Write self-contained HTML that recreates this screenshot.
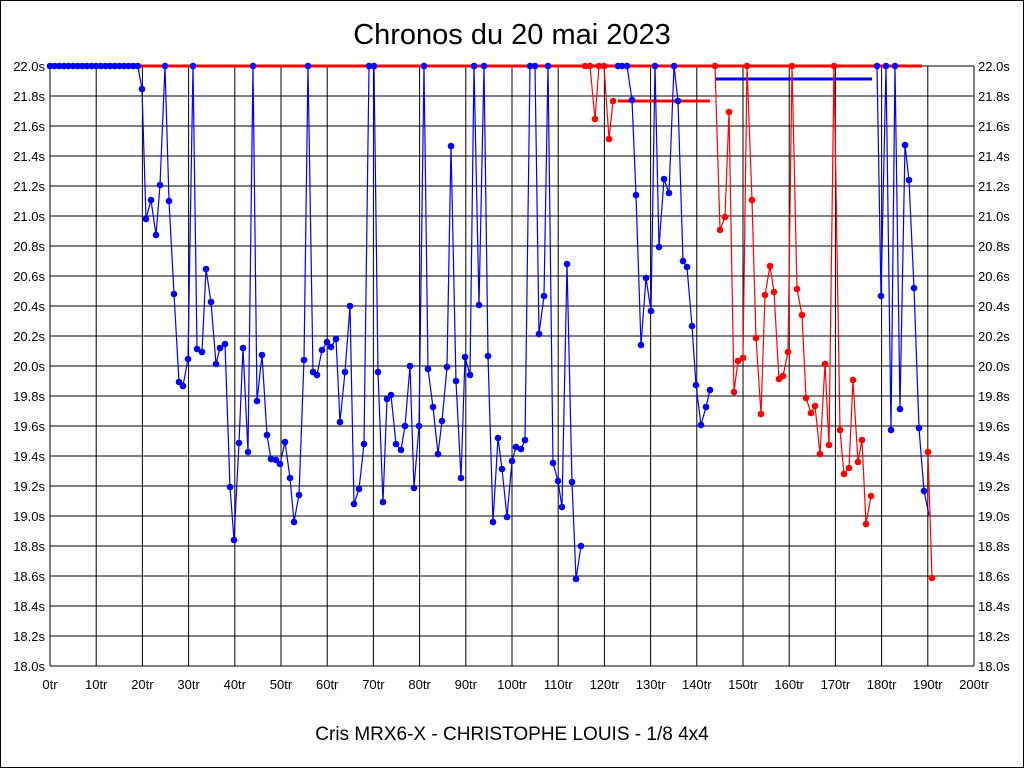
<!DOCTYPE html>
<html><head><meta charset="utf-8"><style>
body{margin:0;background:#fff;width:1024px;height:768px;overflow:hidden;font-family:"Liberation Sans",sans-serif}
</style></head><body>
<svg id="s" width="1024" height="768" xmlns="http://www.w3.org/2000/svg" font-family="Liberation Sans, sans-serif">
<rect x="0.5" y="0.5" width="1023" height="767" fill="#fff" stroke="#000"/>
<text x="512" y="44" font-size="29" text-anchor="middle">Chronos du 20 mai 2023</text>
<text x="512" y="740" font-size="19" text-anchor="middle">Cris MRX6-X - CHRISTOPHE LOUIS - 1/8 4x4</text>
<g id="g"></g>
</svg>
<script>
var ns="http://www.w3.org/2000/svg",g=document.getElementById('g');
function el(t,a,txt){var e=document.createElementNS(ns,t);for(var k in a)e.setAttribute(k,a[k]);if(txt)e.textContent=txt;g.appendChild(e);return e;}
var L=50,R=974,T=66,B=666;
for(var i=0;i<=20;i++){var y=T+i*30;el('line',{x1:L,x2:R,y1:y,y2:y,stroke:'#000','stroke-width':1});
var v=(22-i*0.2).toFixed(1)+'s';el('text',{x:45,y:y+5,'font-size':13,'text-anchor':'end'},v);el('text',{x:978,y:y+5,'font-size':13},v);}
for(var i=0;i<=20;i++){var x=L+i*(R-L)/20;el('line',{x1:x,x2:x,y1:T,y2:B,stroke:'#000','stroke-width':1});
el('text',{x:x,y:689,'font-size':13,'text-anchor':'middle'},(i*10)+'tr');}
el('line',{x1:L,x2:R,y1:B,y2:B,stroke:'#000','stroke-width':1});
function poly(pts,c,w){el('polyline',{points:pts.map(p=>p.join(',')).join(' '),fill:'none',stroke:c,'stroke-width':w});}
function dots(pts,c){pts.forEach(p=>el('circle',{cx:p[0],cy:p[1],r:3.3,fill:c}));}
poly([[137,66],[922,66]],'#f00',3);
poly([[618,101],[710,101]],'#f00',3);
poly([[715,79],[872,79]],'#00f',3);
var b=[];for(var i=0;i<20;i++)b.push([50+i*4.62,66]);
b=b.concat([[142,89],[146,219],[151,200],[156,235],[160,185],[165,66],[169,201],[174,294],[179,382],[183,386],[188,359],[193,66],[197,349],[202,352],[206,269],[211,302],[216,364],[220,348],[225,344],[230,487],[234,540],[239,443],[243,348],[248,452],[253,66],[257,401],[262,355],[267,435],[271,459],[276,460],[280,464],[285,442],[290,478],[294,522],[299,495],[304,360],[308,66],[313,372],[317,375],[322,350],[327,342],[331,347],[336,339],[340,422],[345,372],[350,306],[354,504],[359,489],[364,444],[369,66],[374,66],[378,372],[383,502],[387,399],[391,395],[396,444],[401,450],[405,426],[410,366],[414,488],[419,426],[424,66],[428,369],[433,407],[438,454],[442,421],[447,367],[451,146],[456,381],[461,478],[465,357],[470,375],[474,66],[479,305],[484,66],[488,356],[493,522],[498,438],[502,469],[507,517],[512,461],[516,447],[521,449],[525,440],[530,66],[535,66],[539,334],[544,296],[548,66],[553,463],[558,481],[562,507],[567,264],[572,482],[576,579],[581,546]]);
var b2=[[618,66],[622,66],[627,66],[632,100],[636,195],[641,345],[646,278],[651,311],[655,66],[659,247],[664,179],[669,193],[674,66],[678,101],[683,261],[687,267],[692,326],[696,385],[701,425],[706,407],[710,390]];
var b3=[[877,66],[881,296],[886,66],[891,430],[895,66],[900,409],[905,145],[909,180],[914,288],[919,428],[924,491],[929,515]];
var r1=[[585,66],[590,66],[595,119],[599,66],[604,66],[609,139],[613,101]];
var r2=[[715,66],[720,230],[725,217],[729,112],[734,392],[738,361],[743,358],[747,66],[752,200],[756,338],[761,414],[765,295],[770,266],[774,292],[779,379],[783,376],[788,352],[792,66],[797,289],[802,315],[806,398],[811,413],[815,406],[820,454],[825,364],[829,445],[834,66],[840,430],[844,474],[849,468],[853,380],[858,462],[862,440],[866,524],[871,496]];
var r3=[[928,452],[932,578]];
[b,b2,b3].forEach(p=>{poly(p,'#00f',1.2);});
[r1,r2,r3].forEach(p=>{poly(p,'#f00',1.2);});
dots(b,'#00f');dots(b2,'#00f');dots(b3.slice(0,11),'#00f');
dots(r1,'#f00');dots(r2,'#f00');dots(r3,'#f00');
</script>
</body></html>
